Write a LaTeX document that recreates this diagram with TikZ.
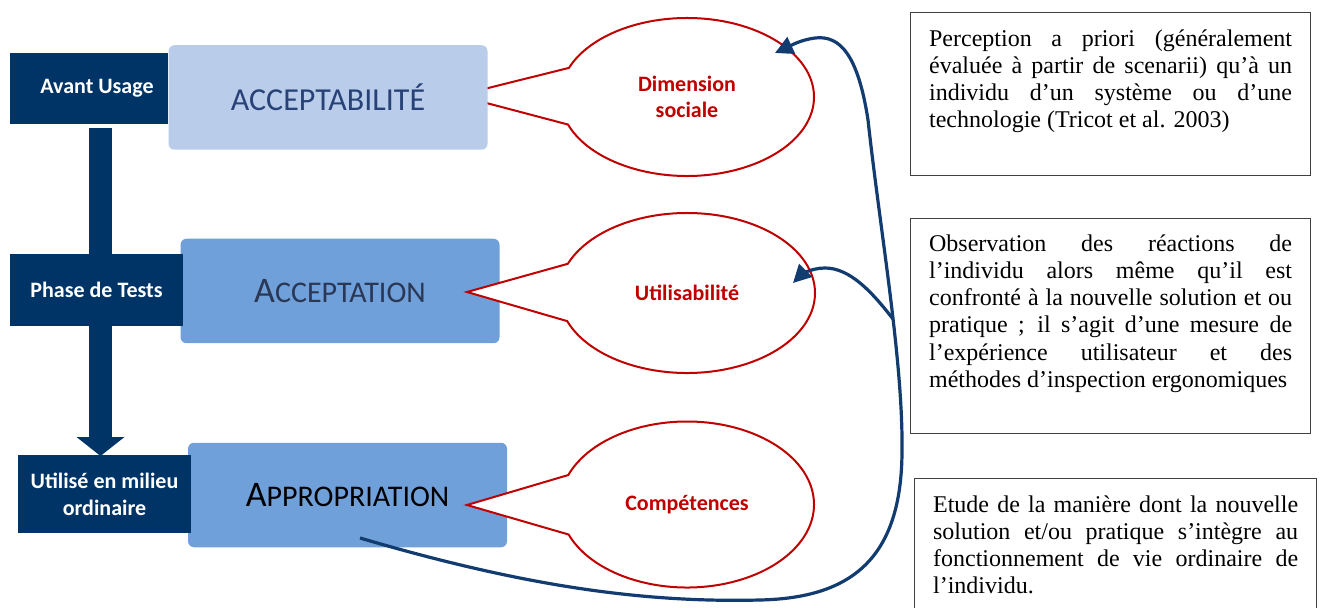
\documentclass[tikz,border=0pt]{standalone}
\usepackage{fontspec}
\setmainfont{Liberation Serif}
\newfontfamily\calibri{Carlito}
\usetikzlibrary{shapes.geometric,shapes.callouts,arrows.meta}

\definecolor{navyPhase}{RGB}{0,51,102}
\definecolor{paleBlue}{RGB}{185,205,235}
\definecolor{midBlue}{RGB}{112,160,218}
\definecolor{redLine}{RGB}{192,0,0}
\definecolor{arrowBlue}{RGB}{18,60,112}
\definecolor{titleBlue}{RGB}{40,66,120}
\definecolor{titleGray}{RGB}{42,55,85}

\newcommand{\jline}[1]{\hbox to \linewidth{#1}}
\newcommand{\lastline}[1]{\hbox to \linewidth{#1\hfil}}

\begin{document}
\begin{tikzpicture}[
    x=0.5pt, y=-0.5pt,
    every node/.style={align=center},
    phaseBox/.style={rectangle, fill=navyPhase, text=white, inner sep=0pt, font=\calibri\bfseries\fontsize{11}{13.5}\selectfont},
    stageBox/.style={rectangle, rounded corners=3pt, inner sep=0pt, minimum width=159.5pt, minimum height=52.25pt, font=\calibri},
    bubble/.style={ellipse callout, callout pointer arc=42, draw=redLine, line width=1pt, line join=miter, fill=white, inner sep=0pt, text=redLine, font=\calibri\bfseries\fontsize{11}{13}\selectfont},
    descBox/.style={rectangle, draw=black!75, line width=0.6pt, anchor=north west, inner xsep=9.25pt, inner ysep=0pt, align=left, font=\fontsize{12}{13.6}\selectfont},
    loopArrow/.style={draw=arrowBlue, line width=1.6pt, -{Triangle[length=9pt,width=9pt]}},
    stageArrow/.style={draw=navyPhase, line width=11.5pt, -{Triangle[length=9.5pt,width=23.5pt]}}
]
\useasboundingbox (0,0) rectangle (1320,608);
\clip (0,0) rectangle (1320,608);
\fill[white] (0,0) rectangle (1320,608);

% Nodes
\coordinate (tipSocial) at (458,95.5);
\coordinate (tipUsab) at (467,292);
\coordinate (tipComp) at (467,505);
\node[bubble, callout absolute pointer={(tipSocial)}, minimum width=127pt, minimum height=79pt] (social) at (687,97) {Dimension\\sociale};

\node[stageBox, fill=paleBlue, text=titleBlue, font=\calibri\fontsize{16}{18}\selectfont] (acceptabilite) at (328,97.5) {ACCEPTABILITÉ};
\node[stageBox, fill=midBlue, text=titleGray] (acceptation) at (340,291) {{\fontsize{18}{20}\selectfont A}{\fontsize{15}{20}\selectfont CCEPTATION}};
\node[stageBox, fill=midBlue, text=black] (appropriation) at (347.5,495) {{\fontsize{18}{20}\selectfont A}{\fontsize{15}{20}\selectfont PPROPRIATION}};

\coordinate (barTop) at (100.5,128);
\draw[stageArrow] (barTop) -- (100.5,456);

\node[phaseBox, minimum width=79pt, minimum height=35.5pt] (avant) at (89,88.5) {\hspace*{8pt}Avant Usage};
\node[phaseBox, minimum width=86.5pt, minimum height=36pt] (tests) at (96.5,290) {Phase de Tests};
\node[phaseBox, minimum width=86.5pt, minimum height=39pt] (usage) at (104.5,494) {Utilisé en milieu\\ordinaire};

\node[bubble, callout absolute pointer={(tipUsab)}, minimum width=128pt, minimum height=80pt] (usab) at (687,293) {Utilisabilité};
\node[bubble, callout absolute pointer={(tipComp)}, minimum width=127pt, minimum height=83pt] (comp) at (687,504.5) {Compétences};

\node[descBox] (defAcceptabilite) at (910,12) {\parbox[c][81.5pt][t]{181.5pt}{\vspace*{8.5pt}
\jline{Perception a priori (généralement}
\jline{évaluée à partir de scenarii) qu’à un}
\jline{individu d’un système ou d’une}
\lastline{technologie (Tricot et al. 2003)}}};

\node[descBox] (defAcceptation) at (910,218) {\parbox[c][107.5pt][t]{181.5pt}{\vspace*{8pt}
\jline{Observation des réactions de}
\jline{l’individu alors même qu’il est}
\jline{confronté à la nouvelle solution et ou}
\jline{pratique ; il s’agit d’une mesure de}
\jline{l’expérience utilisateur et des}
\lastline{méthodes d’inspection ergonomiques}}};

\node[descBox] (defAppropriation) at (914,478) {\parbox[c][75pt][t]{182.5pt}{\vspace*{8.5pt}
\jline{Etude de la manière dont la nouvelle}
\jline{solution et/ou pratique s’intègre au}
\jline{fonctionnement de vie ordinaire de}
\lastline{l’individu.}}};

% Arrows
\coordinate (loopStart) at (360,538);
\coordinate (fork) at (893,319);
\coordinate (socialHit) at (775,53);
\coordinate (usabHit) at (793,283);
\draw[loopArrow] (loopStart) .. controls (520,585) and (640,603) .. (760,600) .. controls (850,598) and (902,560) .. (902,450) .. controls (903,360) and (880,230) .. (868,120) .. controls (858,55) and (840,35) .. (815,38) .. controls (800,40) and (790,46) .. (socialHit);
\draw[loopArrow] (fork) .. controls (872,292) and (850,268) .. (825,268) .. controls (810,268) and (800,276) .. (usabHit);

\end{tikzpicture}
\end{document}
